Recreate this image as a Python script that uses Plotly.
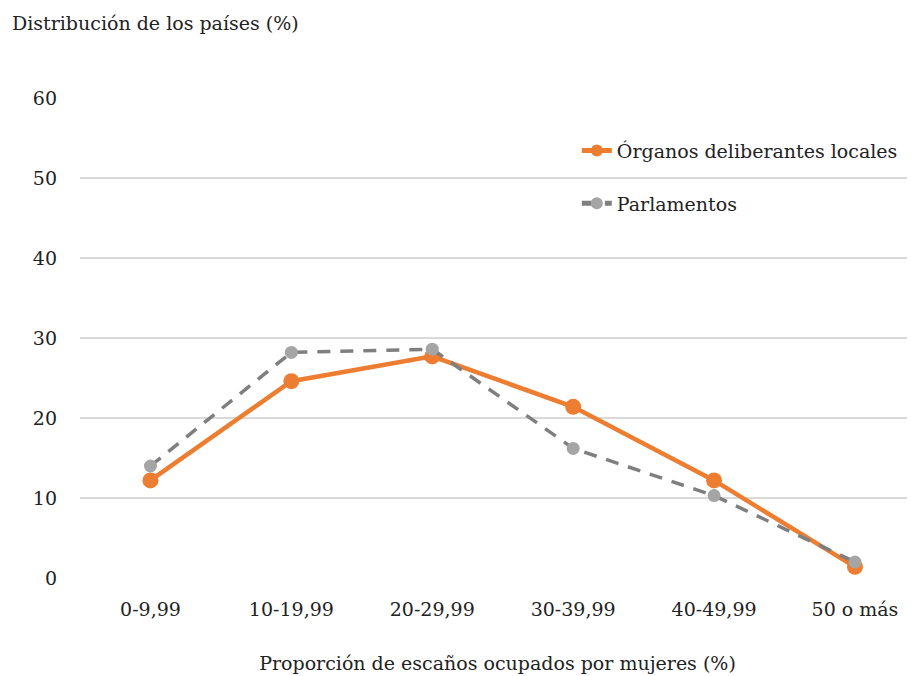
import plotly.graph_objects as go

categories = ["0-9,99", "10-19,99", "20-29,99", "30-39,99", "40-49,99", "50 o más"]
organos = [12.2, 24.6, 27.7, 21.4, 12.2, 1.4]
parlamentos = [14.0, 28.2, 28.6, 16.2, 10.3, 2.0]
y_ticks = [0, 10, 20, 30, 40, 50, 60]

FONT = "DejaVu Serif"

fig = go.Figure()
fig.add_trace(go.Scatter(
    x=categories, y=organos, name="Órganos deliberantes locales",
    legendgroup="a",
    mode="lines+markers",
    line=dict(color="#ED7D31", width=4.5),
    marker=dict(color="#ED7D31", size=16),
    cliponaxis=False,
))
fig.add_trace(go.Scatter(
    x=categories, y=parlamentos, name="Parlamentos",
    legendgroup="b",
    mode="lines+markers",
    line=dict(color="#7F7F7F", width=3.5, dash="13px,10px"),
    marker=dict(color="#A5A5A5", size=13),
    cliponaxis=False,
))

fig.update_layout(
    width=915, height=676,
    margin=dict(l=72, r=8, t=90, b=106),
    paper_bgcolor="white", plot_bgcolor="white",
    font=dict(family=FONT, size=19, color="#222222"),
    showlegend=True,
    legend=dict(x=0.595, y=0.93, xanchor="left", yanchor="top",
                font=dict(size=19), bgcolor="rgba(0,0,0,0)",
                tracegroupgap=25, itemsizing="constant"),
    xaxis=dict(type="category", range=[-0.5, 5.426], showgrid=False,
               showline=False, zeroline=False, ticks="",
               ticklabelstandoff=18,
               title=dict(text="Proporción de escaños ocupados por mujeres (%)",
                          standoff=37, font=dict(size=19))),
    yaxis=dict(range=[0, 60], tickvals=y_ticks, showgrid=True,
               gridcolor="#D9D9D9", gridwidth=2, zeroline=False,
               showline=False, ticks="", ticklabelstandoff=22),
    annotations=[dict(text="Distribución de los países (%)", xref="paper", yref="paper",
                      x=-70/835, y=1 + 75/480, xanchor="left", yanchor="middle",
                      showarrow=False, font=dict(size=19))],
)

fig.write_html("out.html")
